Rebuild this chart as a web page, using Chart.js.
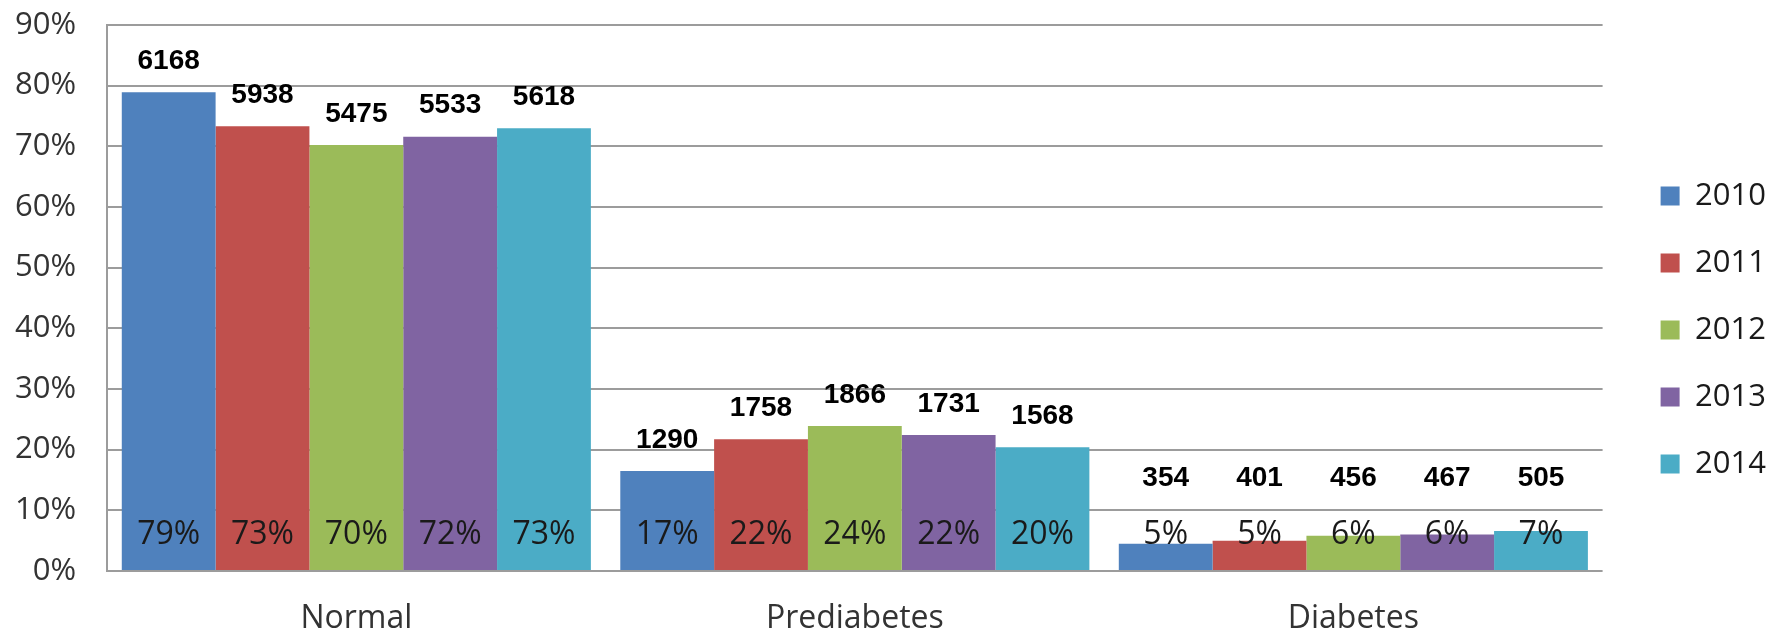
<!DOCTYPE html>
<html>
<head>
<meta charset="utf-8">
<script src="https://cdn.jsdelivr.net/npm/chart.js@4.4.1/dist/chart.umd.min.js"></script>
<style>
  html, body { margin: 0; padding: 0; background: #fff; }
  #chart { display: block; }
</style>
</head>
<body>
<canvas id="chart" width="1785" height="635"></canvas>
<script>
// categorias e anos
const categories = ['Normal', 'Prediabetes', 'Diabetes'];
const years = ['2010', '2011', '2012', '2013', '2014'];
const colors = ['#4F81BD', '#C0504D', '#9BBB59', '#8064A2', '#4BACC6'];

// percentual por ano (Normal, Prediabetes, Diabetes)
const pct2010 = [78.9, 16.5, 4.5];
const pct2011 = [73.3, 21.7, 5.0];
const pct2012 = [70.2, 23.9, 5.8];
const pct2013 = [71.6, 22.4, 6.0];
const pct2014 = [73.0, 20.4, 6.6];

// número de pessoas por ano
const n2010 = [6168, 1290, 354];
const n2011 = [5938, 1758, 401];
const n2012 = [5475, 1866, 456];
const n2013 = [5533, 1731, 467];
const n2014 = [5618, 1568, 505];

const yTicks = [0, 10, 20, 30, 40, 50, 60, 70, 80, 90];

const pctSeries = [pct2010, pct2011, pct2012, pct2013, pct2014];
const countSeries = [n2010, n2011, n2012, n2013, n2014];

const textFont = '"Open Sans", "Noto Sans", sans-serif';

// escreve a contagem em cima da barra e o percentual embaixo
const barLabels = {
    id: 'barLabels',
    afterDatasetsDraw(chart) {
        const ctx = chart.ctx;
        const yScale = chart.scales.y;
        const pctY = yScale.getPixelForValue(0) - 36;
        ctx.save();
        ctx.textAlign = 'center';
        ctx.textBaseline = 'middle';
        chart.data.datasets.forEach((ds, i) => {
            const meta = chart.getDatasetMeta(i);
            meta.data.forEach((bar, j) => {
                ctx.font = '32px ' + textFont;
                ctx.fillStyle = '#1a1a1a';
                ctx.fillText(Math.round(ds.data[j]) + '%', bar.x, pctY);

                const countY = Math.min(bar.y - 31, pctY - 57);
                ctx.font = 'bold 28px "Liberation Sans", Arial, sans-serif';
                ctx.fillStyle = '#000';
                ctx.fillText(ds.counts[j], bar.x, countY);
            });
        });
        ctx.restore();
    }
};

const datasets = years.map((year, i) => ({
    label: year,
    data: pctSeries[i],
    counts: countSeries[i],
    backgroundColor: colors[i],
    borderWidth: 0,
    categoryPercentage: 0.941,
    barPercentage: 1.0
}));

new Chart(document.getElementById('chart'), {
    type: 'bar',
    data: { labels: categories, datasets: datasets },
    plugins: [barLabels],
    options: {
        responsive: false,
        animation: false,
        devicePixelRatio: 1,
        layout: { padding: { left: 15, top: 25, right: 9, bottom: 0 } },
        plugins: {
            legend: {
                position: 'right',
                labels: {
                    boxWidth: 19,
                    boxHeight: 19,
                    padding: 36,
                    color: '#1a1a1a',
                    font: { family: textFont, size: 31 }
                }
            },
            tooltip: { enabled: false }
        },
        scales: {
            x: {
                grid: { display: false, drawTicks: true, tickLength: 32 },
                border: { display: false },
                ticks: {
                    color: '#333',
                    padding: 0,
                    font: { family: textFont, size: 32, lineHeight: 1 }
                }
            },
            y: {
                min: 0,
                max: 90,
                afterBuildTicks(scale) {
                    scale.ticks = yTicks.map(v => ({ value: v }));
                },
                grid: { color: '#9c9c9c', lineWidth: 2, tickLength: 31, tickColor: 'rgba(0,0,0,0)' },
                border: { display: true, color: '#9c9c9c', width: 2 },
                ticks: {
                    color: '#333',
                    padding: 0,
                    font: { family: textFont, size: 31 },
                    callback: v => v + '%'
                }
            },
            // espaço vazio entre a área do gráfico e a legenda
            gap: {
                position: 'right',
                display: true,
                grid: { display: false, drawTicks: false },
                border: { display: false },
                ticks: { display: false },
                afterFit(scale) { scale.width = 22; }
            }
        }
    }
});
</script>
</body>
</html>
